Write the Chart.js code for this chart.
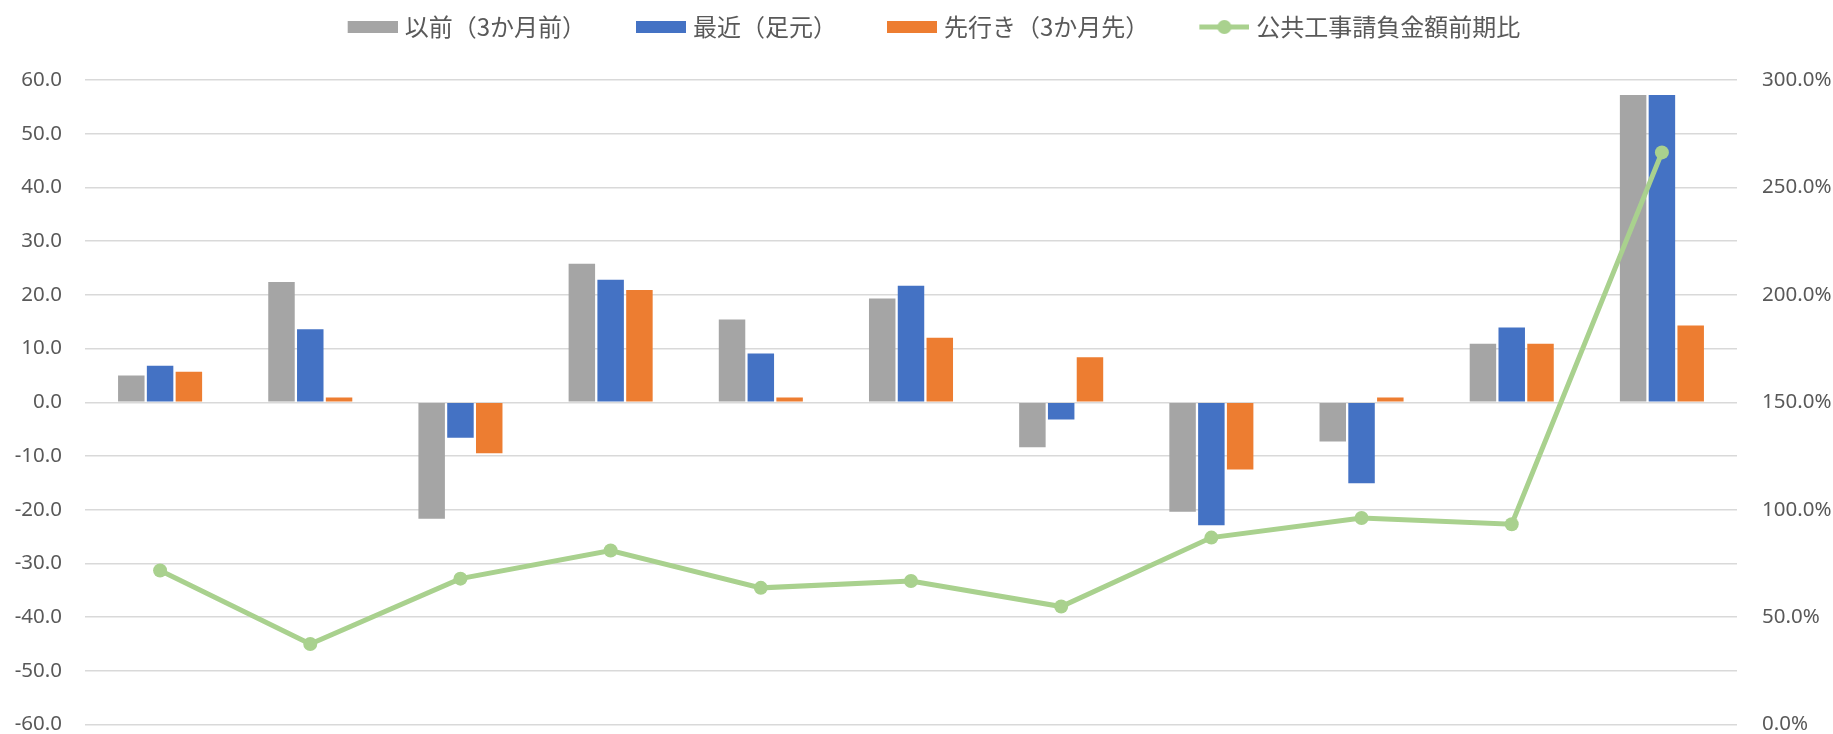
<!DOCTYPE html>
<html><head><meta charset="utf-8">
<script src="https://cdn.jsdelivr.net/npm/chart.js@4/dist/chart.umd.min.js"></script>
<style>html,body{margin:0;padding:0;background:#fff;overflow:hidden}#wrap{width:1833px;height:734px}</style>
</head><body><div id="wrap"><canvas id="c" width="1833" height="734"></canvas></div>
<script>
// ---- data ----
const categories = ['1','2','3','4','5','6','7','8','9','10','11'];
const seriesNames = ['以前（3か月前）','最近（足元）','先行き（3か月先）','公共工事請負金額前期比'];
const previous = [5.0, 22.4, -21.7, 25.8, 15.4, 19.3, -8.4, -20.4, -7.3, 10.9, 57.2];
const recent   = [6.8, 13.6, -6.6, 22.8, 9.1, 21.7, -3.2, -22.9, -15.1, 13.9, 57.2];
const outlook  = [5.7, 0.9, -9.5, 20.9, 0.9, 12.0, 8.4, -12.5, 0.9, 10.9, 14.3];
const publicWorksRatio = [71.7, 37.5, 67.9, 81.0, 63.6, 66.8, 54.9, 87.0, 96.1, 93.2, 266.3];
const leftAxisTicks = [-60, -50, -40, -30, -20, -10, 0, 10, 20, 30, 40, 50, 60];
const rightAxisTicks = [0, 50, 100, 150, 200, 250, 300];

// ---- styles ----
const colors = ['#a5a5a5', '#4472c4', '#ed7d31', '#a9d18e'];
const textColor = '#595959';
const gridColor = '#d9d9d9';

// legend marker images: visible mark sits at the right end of a wider transparent canvas
const PSW = 80, IMG_W = PSW + 10;
function boxImage(color){
  const c = document.createElement('canvas'); c.width = IMG_W; c.height = 12;
  const g = c.getContext('2d'); g.fillStyle = color; g.fillRect(IMG_W - 50, 0, 50, 12); return c;
}
function lineImage(color){
  const c = document.createElement('canvas'); c.width = IMG_W; c.height = 16;
  const g = c.getContext('2d'); g.strokeStyle = color; g.lineWidth = 5;
  const x0 = IMG_W - 50;
  g.beginPath(); g.moveTo(x0, 8); g.lineTo(IMG_W, 8); g.stroke();
  g.fillStyle = color; g.beginPath(); g.arc(x0 + 25, 8, 7, 0, Math.PI*2); g.fill(); return c;
}
const legendImages = [boxImage(colors[0]), boxImage(colors[1]), boxImage(colors[2]), lineImage(colors[3])];

const legendSpacer = {
  id: 'legendSpacer',
  beforeLayout(chart){
    const lg = chart.legend;
    if (lg && !lg._patched){
      const orig = lg.fit;
      lg.fit = function(){ orig.call(this); this.height += 31; };
      lg._patched = true;
    }
  }
};

const tickFont = {family: 'Noto Sans', size: 20.5, lineHeight: 1.0};
function fixVerticalPadding(s, width){
  s.width = width;
  s.paddingTop = 10;
  s.paddingBottom = 9.5;
}

new Chart(document.getElementById('c'), {
  data: {
    labels: categories,
    datasets: [
      {type:'bar', label: seriesNames[0], data: previous, backgroundColor: colors[0], yAxisID:'y', order: 1,
       categoryPercentage: 0.575, barPercentage: 0.92},
      {type:'bar', label: seriesNames[1], data: recent, backgroundColor: colors[1], yAxisID:'y', order: 1,
       categoryPercentage: 0.575, barPercentage: 0.92},
      {type:'bar', label: seriesNames[2], data: outlook, backgroundColor: colors[2], yAxisID:'y', order: 1,
       categoryPercentage: 0.575, barPercentage: 0.92},
      {type:'line', label: seriesNames[3], data: publicWorksRatio, borderColor: colors[3], backgroundColor: colors[3],
       borderWidth: 5, pointRadius: 7, pointBorderWidth: 0, pointBackgroundColor: colors[3], tension: 0,
       yAxisID:'y1', order: 0}
    ]
  },
  options: {
    responsive: false, devicePixelRatio: 1, animation: false,
    layout: {padding: 0},
    plugins: {
      tooltip: {enabled: false},
      legend: {
        position: 'top',
        labels: {
          usePointStyle: true, pointStyleWidth: PSW, padding: 15,
          font: {family: 'Noto Sans CJK JP', size: 24},
          color: textColor,
          generateLabels(chart){
            return chart.data.datasets.map((ds, i) => ({
              text: ds.label, datasetIndex: i, pointStyle: legendImages[i],
              fillStyle: colors[i], strokeStyle: colors[i], lineWidth: 0,
              fontColor: textColor, hidden: false
            }));
          }
        }
      }
    },
    scales: {
      x: {display: false, offset: true, grid: {display: false}},
      y: {
        position: 'left', min: -60, max: 60,
        afterBuildTicks(s){ s.ticks = leftAxisTicks.map(v => ({value: v})); },
        afterFit(s){ fixVerticalPadding(s, 85); },
        ticks: {padding: 23, color: textColor, font: tickFont, callback: v => Number(v).toFixed(1)},
        grid: {color: gridColor, lineWidth: 1.5, drawTicks: false},
        border: {display: false}
      },
      y1: {
        position: 'right', min: 0, max: 300,
        afterBuildTicks(s){ s.ticks = rightAxisTicks.map(v => ({value: v})); },
        afterFit(s){ fixVerticalPadding(s, 96); },
        ticks: {padding: 25, color: textColor, font: tickFont, callback: v => Number(v).toFixed(1) + '%'},
        grid: {display: false, drawTicks: false},
        border: {display: false}
      }
    }
  },
  plugins: [legendSpacer]
});
</script>
</body></html>
